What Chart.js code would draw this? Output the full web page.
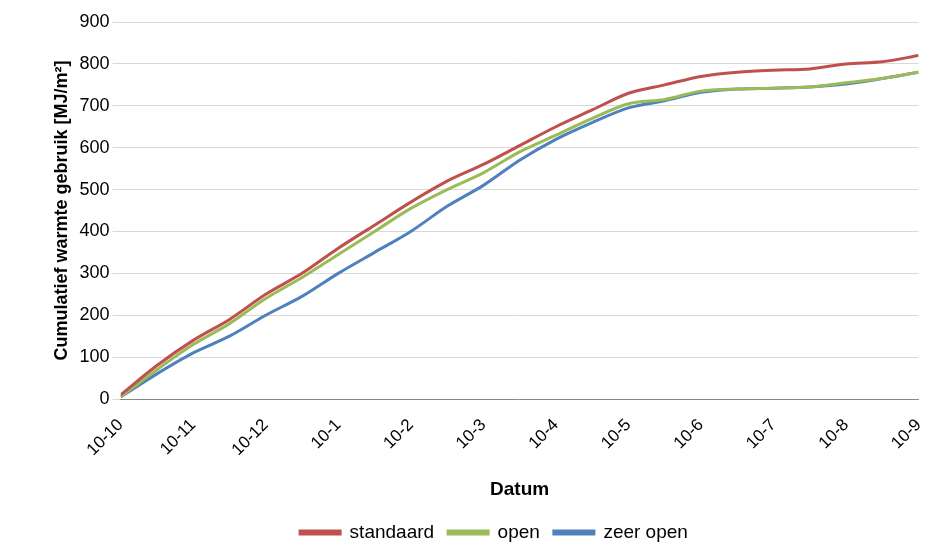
<!DOCTYPE html>
<html><head><meta charset="utf-8">
<script src="https://cdn.jsdelivr.net/npm/chart.js@4"></script>
<style>html,body{margin:0;background:#fff}#w{width:941px;height:552px}</style>
</head><body><div id="w"><canvas id="c"></canvas></div>
<script>
const monthLabels=["10-10","10-11","10-12","10-1","10-2","10-3","10-4","10-5","10-6","10-7","10-8","10-9"];
const xs=[0,0.5,1,1.5,2,2.5,3,3.5,4,4.5,5,5.5,6,6.5,7,7.5,8,8.5,9,9.5,10,10.5,11];
const standaard=[10,80,140,190,250,300,360,415,470,520,560,605,650,690,730,750,770,780,785,788,800,805,820];
const openS=[5,70,130,180,240,290,345,400,455,500,540,590,630,670,705,715,735,740,742,745,755,765,780];
const zeerOpen=[5,60,110,150,200,245,300,350,400,460,510,570,620,660,695,712,732,740,742,745,752,765,780];
const mk=(a)=>a.map((v,i)=>({x:xs[i],y:v}));
Chart.defaults.font.family="'Liberation Sans', Arial, sans-serif";
Chart.defaults.color="#000";
new Chart(document.getElementById('c'),{type:'line',
data:{datasets:[
{label:'standaard',data:mk(standaard),borderColor:'#c0504d',backgroundColor:'#c0504d'},
{label:'open',data:mk(openS),borderColor:'#9bbb59',backgroundColor:'#9bbb59'},
{label:'zeer open',data:mk(zeerOpen),borderColor:'#4f81bd',backgroundColor:'#4f81bd'}]},
options:{responsive:true,maintainAspectRatio:false,animation:false,
elements:{point:{radius:0},line:{borderWidth:3,tension:0.3}},
layout:{padding:{left:47,right:0,top:22,bottom:0}},
plugins:{legend:{position:'bottom',labels:{boxWidth:40,boxHeight:3,padding:14,font:{size:19}}}},
scales:{
x:{type:'linear',min:0,max:11,grid:{display:false},border:{color:'#888'},
ticks:{stepSize:1,maxRotation:45,minRotation:45,padding:8,font:{size:17},callback:v=>monthLabels[v]},
title:{display:true,text:'Datum',padding:{top:10,bottom:8},font:{size:19,weight:'bold'}}},
y:{min:0,max:900,grid:{color:'#d9d9d9'},border:{display:false},
ticks:{stepSize:100,font:{size:18}},
title:{display:true,text:'Cumulatief warmte gebruik [MJ/m²]',font:{size:18,weight:'bold'}}}}}});
</script></body></html>
